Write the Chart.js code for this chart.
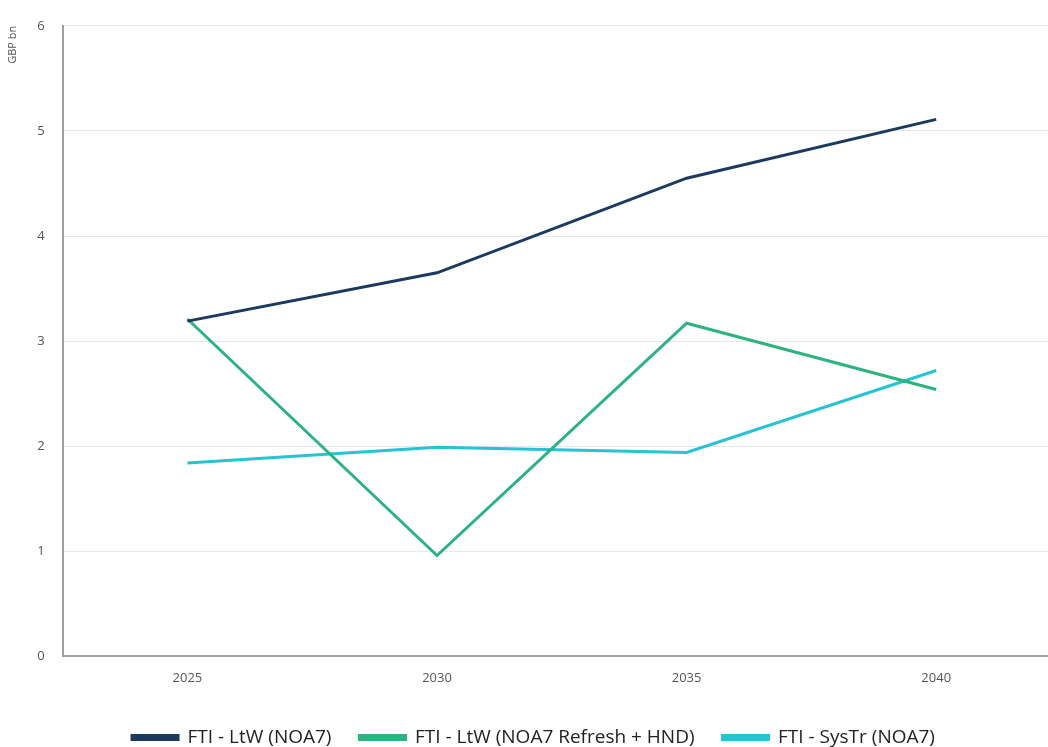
<!DOCTYPE html>
<html>
<head>
<meta charset="utf-8">
<script src="https://cdn.jsdelivr.net/npm/chart.js@4.4.1/dist/chart.umd.min.js"></script>
<style>
    html, body { margin: 0; padding: 0; background: #fff; overflow: hidden; }
    #wrap { width: 1061px; height: 747px; position: relative; }
</style>
</head>
<body>
<div id="wrap"><canvas id="mainChart"></canvas></div>
<script>
// Anos (eixo x)
const years = ['2025', '2030', '2035', '2040'];

// Séries em GBP bn
const ltwNoa7 = [3.19, 3.65, 4.55, 5.11];
const ltwRefreshHnd = [3.21, 0.96, 3.17, 2.54];
const sysTrNoa7 = [1.84, 1.99, 1.94, 2.72];

const yTicks = [0, 1, 2, 3, 4, 5, 6];

const fontFamily = "'Open Sans', sans-serif";

function serie(label, data, color) {
    return {
        label: label,
        data: data,
        borderColor: color,
        backgroundColor: color,
        borderWidth: 3,
        pointRadius: 0,
        pointHoverRadius: 0,
        tension: 0,
        fill: false
    };
}

const ctx = document.getElementById('mainChart').getContext('2d');

new Chart(ctx, {
    type: 'line',
    data: {
        labels: years,
        datasets: [
            serie('FTI - LtW (NOA7)', ltwNoa7, '#1b3a5e'),
            serie('FTI - LtW (NOA7 Refresh + HND)', ltwRefreshHnd, '#2db37f'),
            serie('FTI - SysTr (NOA7)', sysTrNoa7, '#27c3d3')
        ]
    },
    options: {
        responsive: true,
        maintainAspectRatio: false,
        animation: false,
        layout: {
            padding: { top: 8, left: 6, right: 0, bottom: -10 }
        },
        plugins: {
            legend: {
                position: 'bottom',
                labels: {
                    boxWidth: 46,
                    boxHeight: 4,
                    padding: 28,
                    color: '#222',
                    font: { family: fontFamily, size: 19 }
                }
            },
            tooltip: { enabled: false }
        },
        scales: {
            x: {
                offset: true,
                grid: { display: false, drawTicks: false },
                border: { display: true, color: '#a0a0a0', width: 2 },
                ticks: {
                    color: '#555',
                    padding: 14,
                    font: { family: fontFamily, size: 13 }
                }
            },
            y: {
                min: 0,
                max: 6,
                afterBuildTicks: axis => {
                    axis.ticks = yTicks.map(v => ({ value: v }));
                },
                grid: { color: '#e8e8e8', lineWidth: 1, drawTicks: false },
                border: { display: true, color: '#a0a0a0', width: 2 },
                ticks: {
                    color: '#555',
                    padding: 18,
                    font: { family: fontFamily, size: 13 }
                },
                title: {
                    display: true,
                    text: 'GBP bn',
                    align: 'end',
                    color: '#555',
                    padding: { top: 0, bottom: 0 },
                    font: { family: fontFamily, size: 11 }
                }
            }
        }
    }
});
</script>
</body>
</html>
